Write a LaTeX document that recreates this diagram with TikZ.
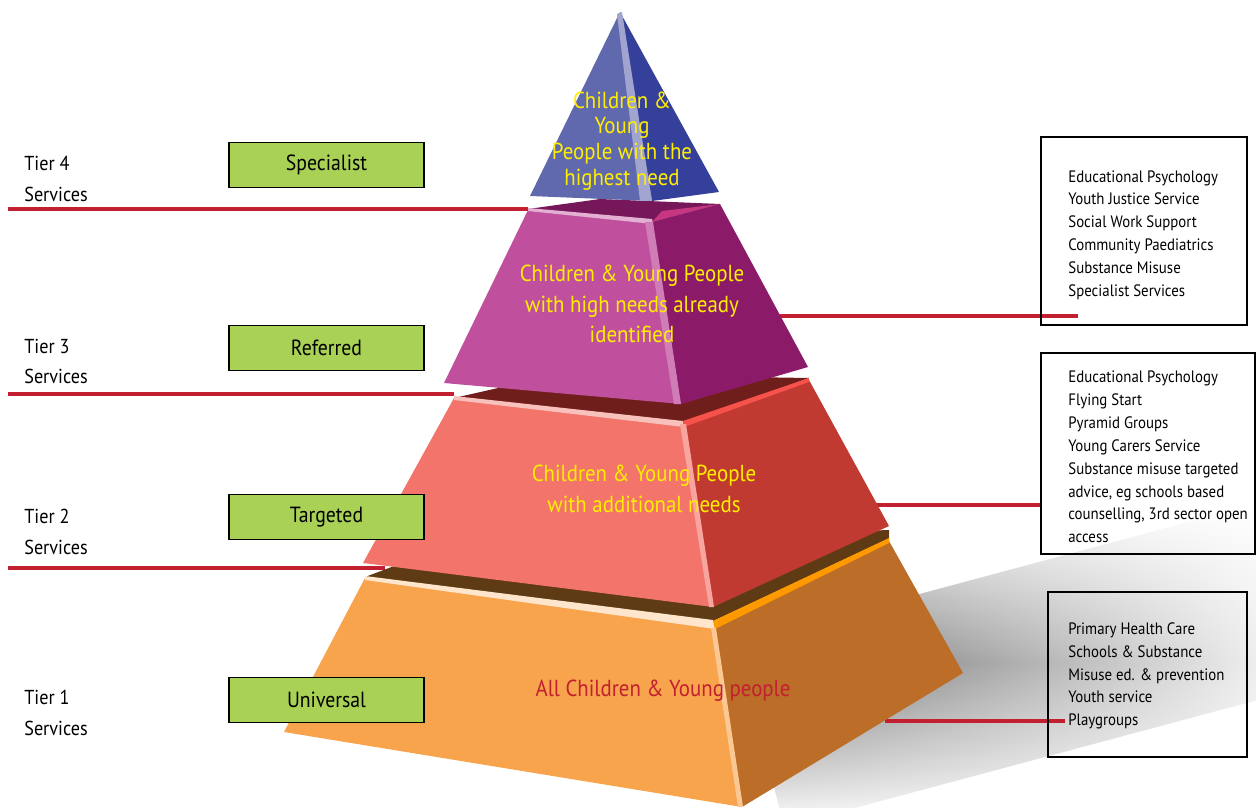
\documentclass[tikz,border=0pt]{standalone}
\usepackage{fontspec}
\setmainfont{PT Sans}[FakeStretch=0.9]
\usetikzlibrary{fadings}
\definecolor{tierred}{HTML}{C21F30}
\definecolor{tiergreen}{HTML}{A8D155}
\definecolor{pyryellow}{HTML}{FFEE00}
\definecolor{blueL}{HTML}{6068AE}
\definecolor{blueR}{HTML}{35409A}
\definecolor{magL}{HTML}{C0509E}
\definecolor{magR}{HTML}{8B1B69}
\definecolor{redL}{HTML}{F2746A}
\definecolor{redR}{HTML}{C03A31}
\definecolor{redtop}{HTML}{701E1C}
\definecolor{orgL}{HTML}{F8A44C}
\definecolor{orgR}{HTML}{BC6D27}
\definecolor{orgtop}{HTML}{5E3B14}
\begin{document}
\begin{tikzpicture}[x=0.02cm,y=-0.02cm,
    tierline/.style={draw=tierred, line width=2.8pt},
    tierbox/.style={draw=black, line width=1.1pt, fill=tiergreen, minimum width=3.9cm,
        minimum height=0.9cm, inner sep=0pt, font=\fontsize{12.5}{15}\selectfont},
    tierlabel/.style={anchor=west, align=left, inner sep=0pt, font=\fontsize{11.5}{17.6}\selectfont},
    infobox/.style={draw=black, line width=0.85pt},
    infotext/.style={anchor=west, align=left, inner sep=0pt, font=\fontsize{9.4}{13}\selectfont},
    pyrtext/.style={align=center, inner sep=0pt, text=pyryellow}]
    \useasboundingbox (0,0) rectangle (1256,807);

    \begin{scope}[shift={(760,735)}, rotate=15]
        \shade [top color=white, bottom color=white, middle color=black!60, path fading=east]
            (0,-95) rectangle (560,95);
    \end{scope}

    \foreach \n/\y/\x in {4/209/528, 3/394/454, 2/568/385} {
        \coordinate (la\n) at (8,\y);
        \coordinate (lb\n) at (\x,\y);
        \draw [tierline] (la\n) -- (lb\n);
    }
    \coordinate (magedge) at (780,316);
    \coordinate (specin) at (1078,316);
    \coordinate (rededge) at (876,505);
    \coordinate (tgtin) at (1042,505);
    \coordinate (orgedge) at (885,721);
    \coordinate (univin) at (1065,721);
    \draw [tierline] (magedge) -- (specin);
    \draw [tierline] (rededge) -- (tgtin);
    \draw [tierline] (orgedge) -- (univin);

    \fill [orgtop] (365,577) -- (450,545) -- (889,530) -- (889,540) -- (713,621) -- cycle;
    \fill [orgL] (365,578) -- (713,628) -- (742,807) -- (284,732) -- cycle;
    \fill [orgR] (713,628) -- (889,541) -- (963,673) -- (742,807) -- cycle;
    \fill [orange!20] (365,576) -- (713,620) -- (715,629) -- (365,580) -- cycle;
    \fill [orange!80!yellow] (713,621) -- (889,538) -- (889,543) -- (715,629) -- cycle;
    \fill [orgL!60!white] (711,628) -- (716,628) -- (743,807) -- (738,807) -- cycle;

    \fill [redtop] (454,398) -- (560,374) -- (809,378) -- (683,424) -- cycle;
    \fill [redL] (454,398) -- (683,424) -- (713,607) -- (363,563) -- cycle;
    \fill [redR] (683,424) -- (809,380) -- (889,526) -- (713,607) -- cycle;
    \fill [redL!45!white] (454,396) -- (683,421) -- (684,427) -- (454,400) -- cycle;
    \fill [redL!70!red] (683,421) -- (809,378) -- (809,382) -- (684,427) -- cycle;
    \fill [redL!65!white] (680,424) -- (686,424) -- (714,607) -- (709,607) -- cycle;

    \fill [magR!85!black] (528,209) -- (600,199) -- (720,204) -- (652,222) -- cycle;
    \fill [magenta!55!magR] (652,222) -- (662,211) -- (720,204) -- cycle;
    \fill [magL] (528,210) -- (652,222) -- (681,404) -- (444,383) -- cycle;
    \fill [magR] (652,222) -- (720,204) -- (808,367) -- (681,404) -- cycle;
    \fill [magL!45!white] (528,208) -- (652,219) -- (653,224) -- (528,211) -- cycle;
    \fill [magL!75!white] (645,222) -- (653,222) -- (681,404) -- (674,404) -- cycle;

    \fill [blueL] (620,12) -- (652,201) -- (530,196) -- cycle;
    \fill [blueR] (620,12) -- (719,192) -- (652,201) -- cycle;
    \fill [blueL!60!white] (617,14) -- (622,12) -- (652,201) -- (640,201) -- cycle;

    \node [pyrtext, font=\fontsize{13.2}{14.6}\selectfont] (txt4) at (622,141)
        {Children \&\\Young\\People with the\\highest need};
    \node [pyrtext, font=\fontsize{13.2}{17.3}\selectfont] (txt3) at (632,304)
        {Children \& Young People\\with high needs already\\identified};
    \node [pyrtext, font=\fontsize{13.2}{17.3}\selectfont] (txt2) at (644,489)
        {Children \& Young People\\with additional needs};
    \node [pyrtext, text=tierred, font=\fontsize{13.2}{17.3}\selectfont] (txt1) at (663,691)
        {All Children \& Young people};

    \foreach \n/\y/\t/\ly in {4/165/Specialist/178.5, 3/348/Referred/361.5,
                             2/517/Targeted/531.5, 1/700/Universal/713} {
        \node [tierbox] (g\n) at (326.5,\y) {\t};
        \node [tierlabel] (tier\n) at (24,\ly) {Tier \n\\Services};
    }

    \draw [infobox] (1041,137) rectangle (1247,325);
    \draw [infobox] (1041,353) rectangle (1255,554);
    \draw [infobox] (1048,592) rectangle (1247,757);
    \node [infotext] (specl) at (1068,235) {Educational Psychology\\Youth Justice Service\\Social Work Support\\Community Paediatrics\\Substance Misuse\\Specialist Services};
    \node [infotext] (tgtl) at (1068,457) {Educational Psychology\\Flying Start\\Pyramid Groups\\Young Carers Service\\Substance misuse targeted\\advice, eg schools based\\counselling, 3rd sector open\\access};
    \node [infotext] (univl) at (1068,676) {Primary Health Care\\Schools \& Substance\\Misuse ed. \& prevention\\Youth service\\Playgroups};

\end{tikzpicture}
\end{document}
